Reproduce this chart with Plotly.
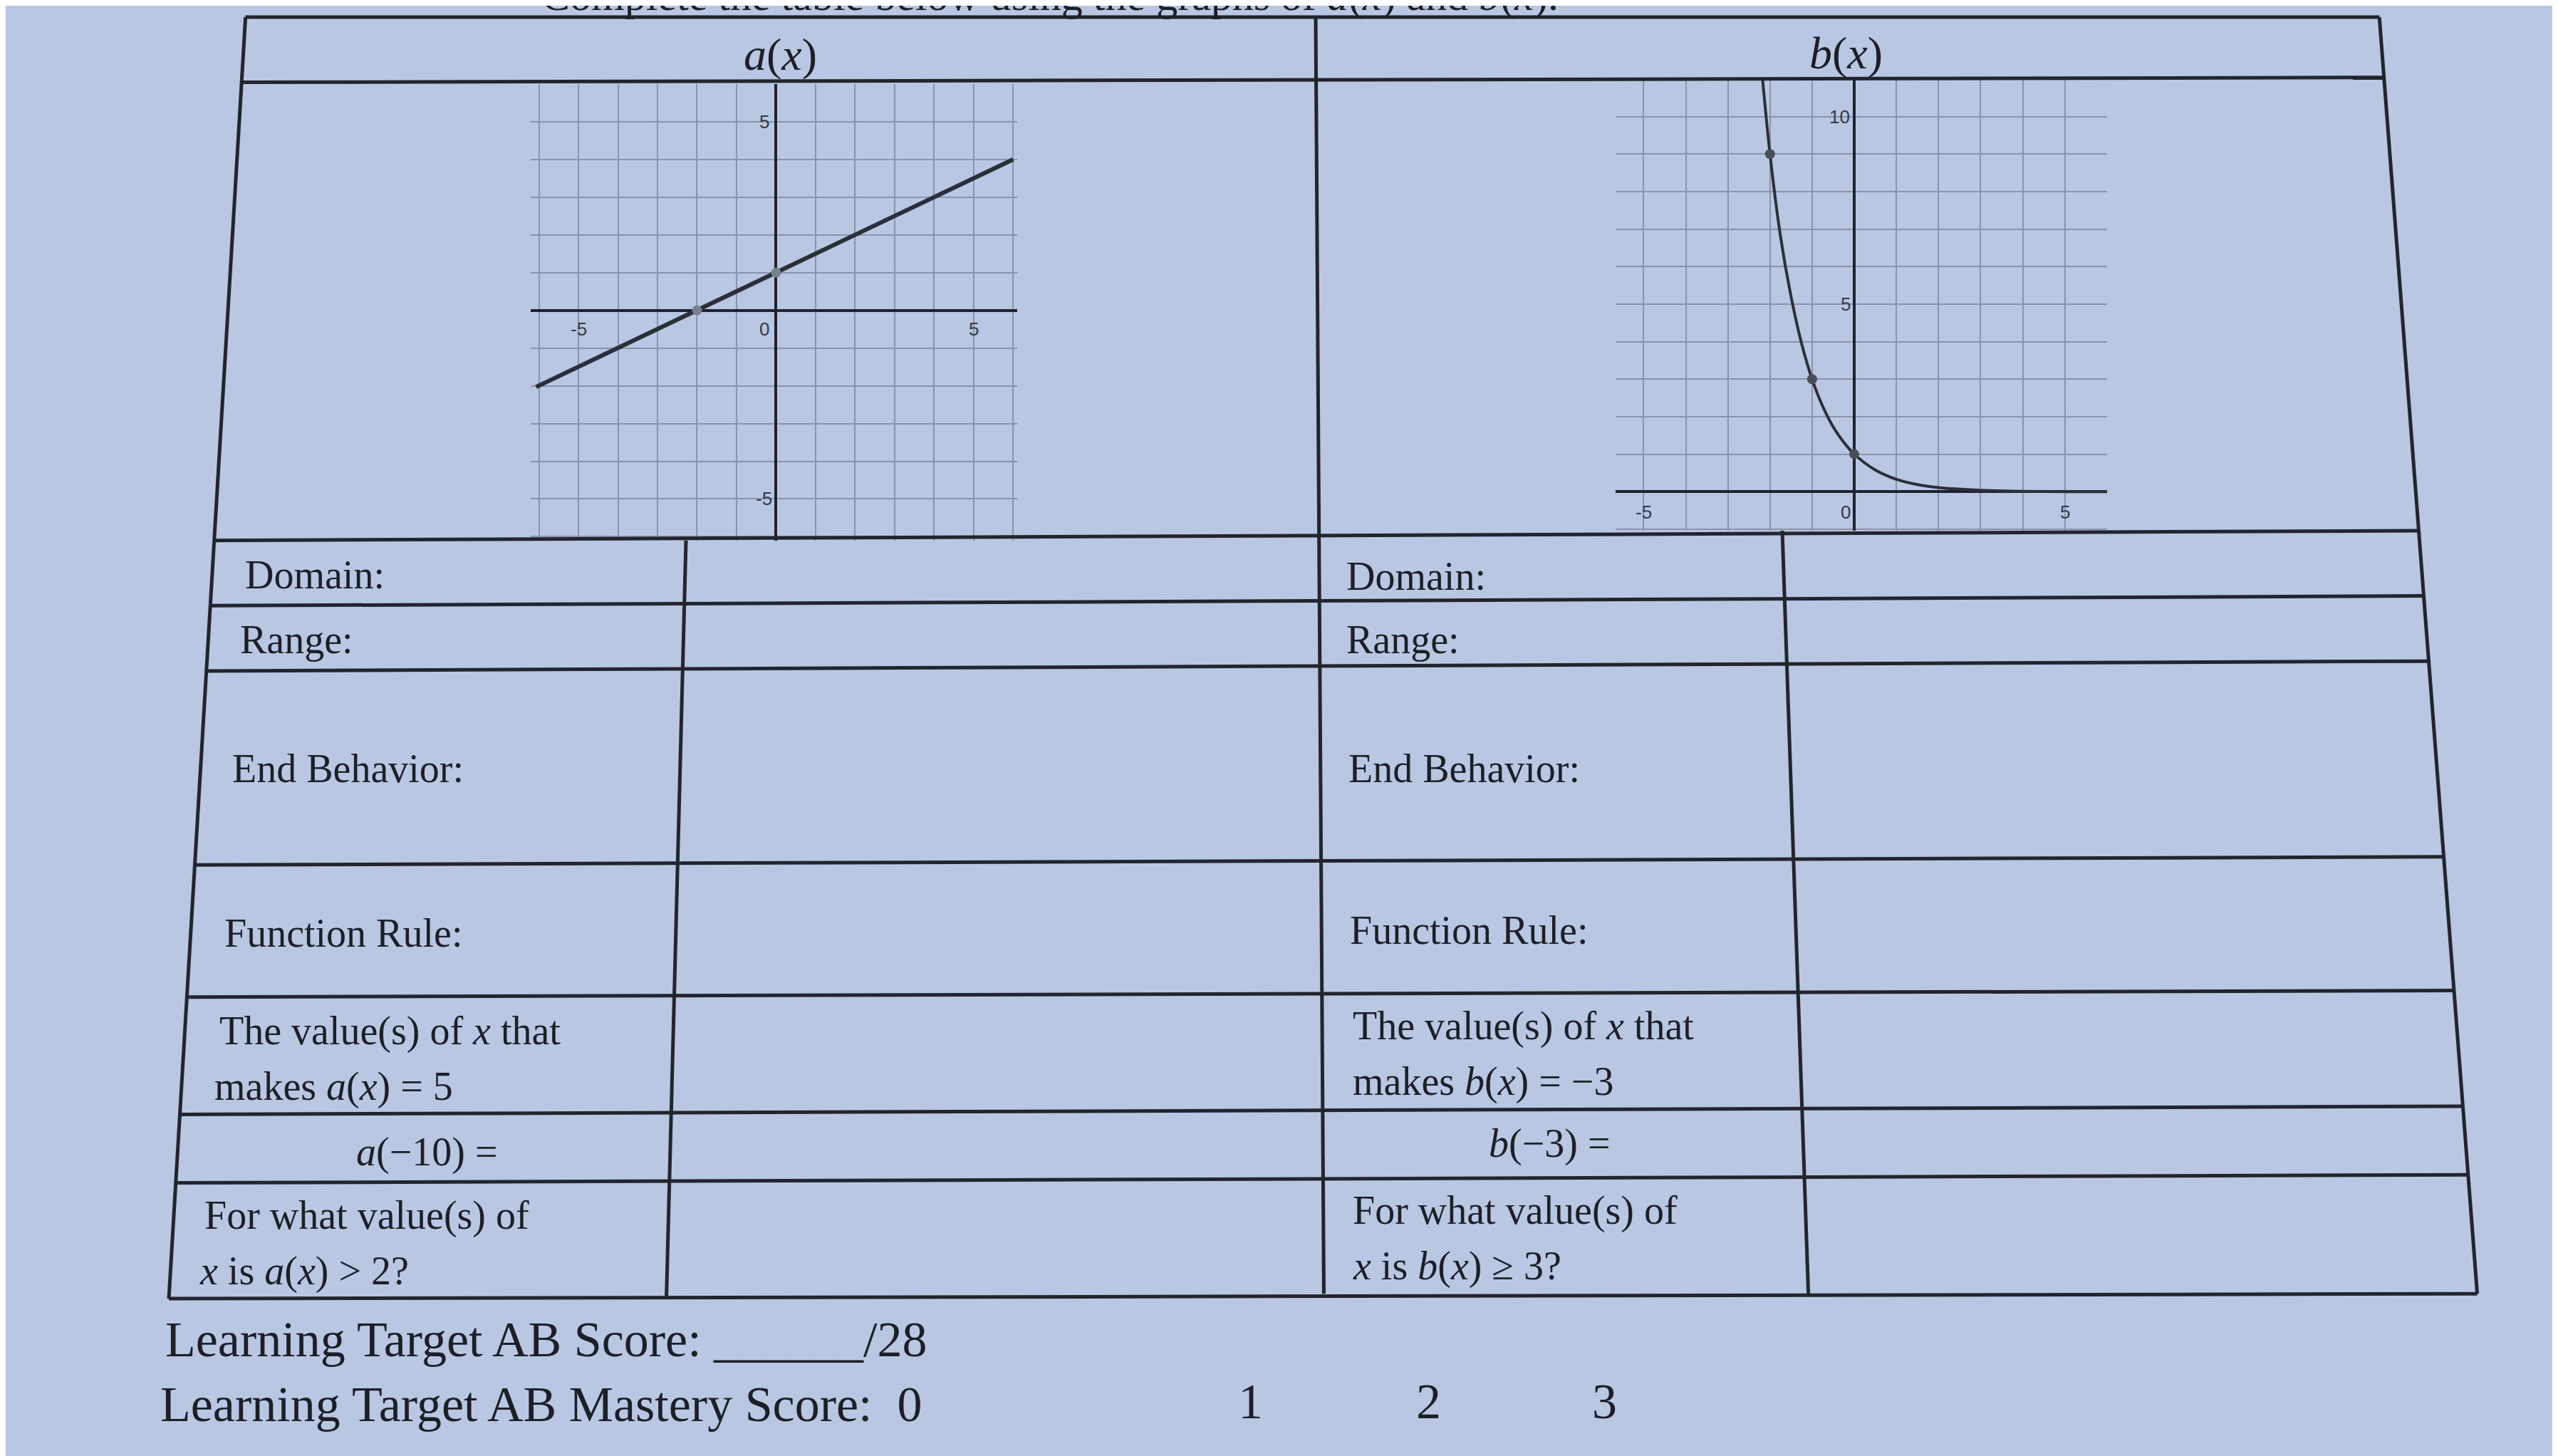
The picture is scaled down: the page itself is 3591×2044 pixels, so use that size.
import plotly.graph_objects as go

W, H = 3591, 2044
DW, DH = 1568, 893  # layout measured in reference display units

# ---- data ----
a_line_x = [-6.07, 6.0]
a_line_y = [-2.03, 4.0]
a_pts_x = [-2, 0]
a_pts_y = [0, 1]
b_curve_x = [-2.25, -2, -1.75, -1.5, -1.25, -1, -0.75, -0.5, -0.25, 0, 0.5, 1, 1.5, 2, 3, 4, 5, 6]
b_curve_y = [11.9, 9, 6.8, 5.2, 3.95, 3, 2.28, 1.73, 1.32, 1, 0.58, 0.33, 0.19, 0.11, 0.04, 0.01, 0.0, 0.0]
b_pts_x = [-2, -1, 0]
b_pts_y = [9, 3, 1]

def px(x): return x / DW
def py(y): return 1 - y / DH

fig = go.Figure()
fig.add_trace(go.Scatter(x=a_line_x, y=a_line_y, mode="lines", line=dict(color="#2b2f3a", width=6),
                         xaxis="x", yaxis="y", showlegend=False))
fig.add_trace(go.Scatter(x=a_pts_x, y=a_pts_y, mode="markers", marker=dict(color="#7a7f8c", size=14),
                         xaxis="x", yaxis="y", showlegend=False))
fig.add_trace(go.Scatter(x=b_curve_x, y=b_curve_y, mode="lines", line=dict(color="#2b2f3a", width=4, shape="spline"),
                         xaxis="x2", yaxis="y2", showlegend=False))
fig.add_trace(go.Scatter(x=b_pts_x, y=b_pts_y, mode="markers", marker=dict(color="#4a4e58", size=14),
                         xaxis="x2", yaxis="y2", showlegend=False))

ax = dict(showgrid=True, gridcolor="#8a93a8", gridwidth=2, dtick=1, tick0=0, showticklabels=False,
          zeroline=True, zerolinecolor="#1e2230", zerolinewidth=4, showline=False, ticks="")
fig.update_layout(
    width=W, height=H, margin=dict(l=0, r=0, t=0, b=0),
    paper_bgcolor="#b9c7e2", plot_bgcolor="rgba(0,0,0,0)",
    xaxis=dict(ax, domain=[px(322), px(620)], range=[-6.2, 6.1], anchor="y"),
    yaxis=dict(ax, domain=[py(328), py(48)], range=[-6.1, 6.0], anchor="x"),
    xaxis2=dict(ax, domain=[px(987), px(1288)], range=[-5.66, 6.0], anchor="y2"),
    yaxis2=dict(ax, domain=[py(322), py(45)], range=[-1.04, 11.0], anchor="x2"),
)

tk = dict(showarrow=False, font=dict(family="Liberation Sans", size=26, color="#333845"))
for x, y, t in [(-5, -0.5, "-5"), (-0.3, -0.5, "0"), (5, -0.5, "5"), (-0.3, 5, "5"), (-0.3, -5, "-5")]:
    fig.add_annotation(x=x, y=y, text=t, xref="x", yref="y", **tk)
for x, y, t in [(-5, -0.55, "-5"), (-0.2, -0.55, "0"), (5, -0.55, "5"), (-0.35, 10, "10"), (-0.2, 5, "5")]:
    fig.add_annotation(x=x, y=y, text=t, xref="x2", yref="y2", **tk)

def xl(y): return 147 + (100 - 147) * (y - 7) / (793 - 7)
def xr(y): return 1455 + (1515 - 1455) * (y - 7) / (790 - 7)
lc = dict(color="#22252e", width=5)
def seg(x0, y0, x1, y1):
    fig.add_shape(type="line", xref="paper", yref="paper", x0=px(x0), y0=py(y0), x1=px(x1), y1=py(y1), line=lc)

left_rows = [7, 47, 328, 368, 408, 527, 608, 680, 722, 793]
right_rows = [7, 44, 322, 362, 402, 522, 604, 675, 717, 790]
for yl, yr in zip(left_rows, right_rows):
    seg(xl(yl), yl, xr(yr), yr)
seg(147, 7, 100, 793)
seg(1455, 7, 1515, 790)
seg(803, 7, 808, 790)
seg(417, 328, 405, 793)
seg(1089, 322, 1105, 790)

F = "Liberation Serif"
def txt(x, y, t, size=56, anchor="left"):
    fig.add_annotation(x=px(x), y=py(y), xref="paper", yref="paper", text=t, showarrow=False,
                       xanchor=anchor, yanchor="middle", font=dict(family=F, size=size, color="#1c1f28"))

txt(475, 30, "<i>a</i>(<i>x</i>)", 64, "center")
txt(1128, 29, "<i>b</i>(<i>x</i>)", 64, "center")
txt(640, -6, "Complete the table below using the graphs of <i>a</i>(<i>x</i>) and <i>b</i>(<i>x</i>).", 60, "center")
for x, y, t in [(146, 349, "Domain:"), (143, 389, "Range:"), (138, 468, "End Behavior:"),
                (133, 569, "Function Rule:"), (130, 629, "The value(s) of <i>x</i> that"),
                (127, 663, "makes <i>a</i>(<i>x</i>) = 5"), (121, 742, "For what value(s) of"),
                (118, 776, "<i>x</i> is <i>a</i>(<i>x</i>) > 2?"),
                (821, 350, "Domain:"), (821, 389, "Range:"), (822, 468, "End Behavior:"),
                (823, 567, "Function Rule:"), (825, 626, "The value(s) of <i>x</i> that"),
                (825, 660, "makes <i>b</i>(<i>x</i>) = −3"), (825, 739, "For what value(s) of"),
                (825, 773, "<i>x</i> is <i>b</i>(<i>x</i>) ≥ 3?")]:
    txt(x, y, t)
txt(258, 703, "<i>a</i>(−10) =", 56, "center")
txt(946, 698, "<i>b</i>(−3) =", 56, "center")
txt(97, 818, "Learning Target AB Score: ______/28", 70)
txt(94, 858, "Learning Target AB Mastery Score:  0", 70)
txt(763, 856, "1", 70, "center")
txt(872, 856, "2", 70, "center")
txt(980, 856, "3", 70, "center")

fig.write_html("out.html")
